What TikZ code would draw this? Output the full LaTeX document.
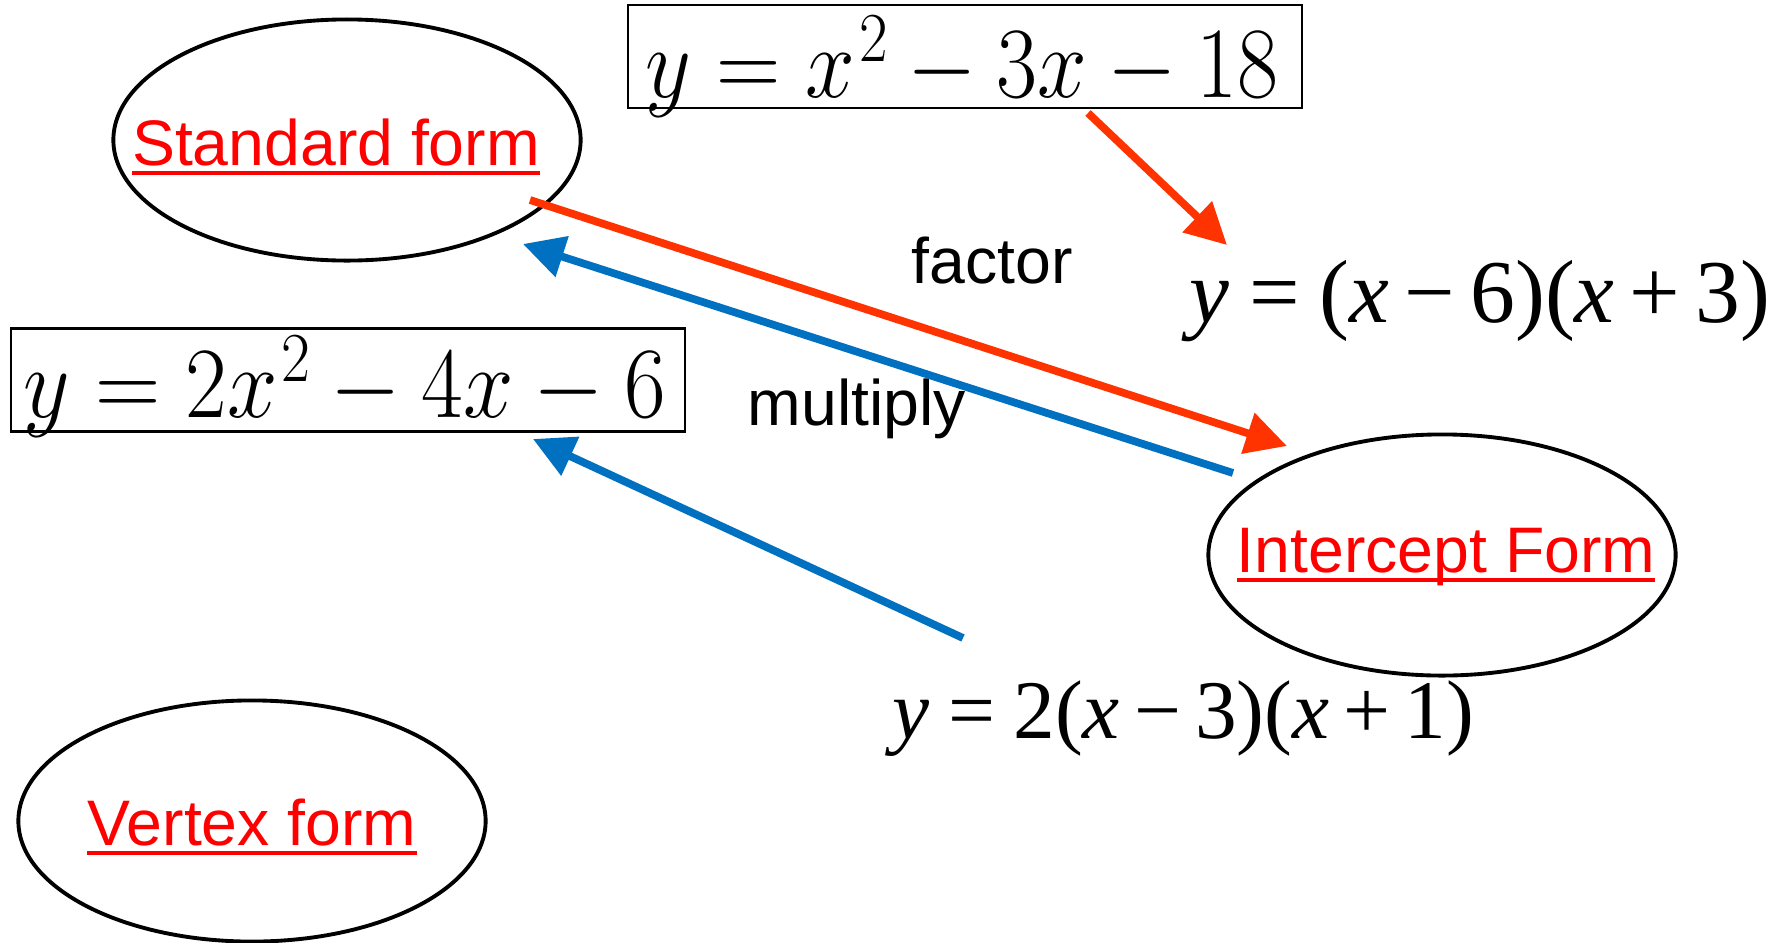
\documentclass[tikz,border=0pt]{standalone}
\usepackage[no-math]{fontspec}
\setmainfont{Liberation Sans}
\newfontfamily\tms{Liberation Serif}
\usepackage{graphicx}
\usetikzlibrary{arrows.meta,shapes.geometric}
\definecolor{arrred}{RGB}{255,51,0}
\definecolor{arrblue}{RGB}{0,112,192}
\definecolor{txtred}{RGB}{255,0,0}
\newcommand\myul[1]{\setbox0\hbox{#1}\rlap{\rule[-2.75pt]{\wd0}{1pt}}\box0}
\newcommand\sqr{\kern1.2pt\raisebox{8.8pt}{\fontsize{17.28}{19}\selectfont$2$}}
\begin{document}
\begin{tikzpicture}[x=0.01cm,y=-0.01cm,
  form/.style={draw=black, line width=1.1pt, ellipse, minimum width=4.67cm, minimum height=2.41cm, inner sep=0pt},
  lbl/.style={text=txtred, font=\fontsize{18.3}{22}\selectfont, inner sep=0pt, anchor=base},
  word/.style={text=black, font=\fontsize{18.3}{22}\selectfont, inner sep=0pt, anchor=base},
  eqbox/.style={draw=black, line width=0.6pt, minimum width=6.74cm, minimum height=1.03cm, inner sep=0pt},
  eqtext/.style={inner sep=0pt, anchor=base west},
  conn/.style={line width=2.2pt, -{Triangle[length=11.7pt,width=11.7pt]}}]
\fill[white] (0,0) rectangle (1775,942);
\useasboundingbox (0,0) rectangle (1775,942);

% ellipses
\node[form] (std) at (347,140) {};
\node[form] (int) at (1442,555) {};
\node[form] (vtx) at (252,821) {};
\node[lbl] (stdt) at (336,165) {\myul{Standard form}};
\node[lbl] (intt) at (1446,572) {\myul{Intercept Form}};
\node[lbl] (vtxt) at (252,845) {\myul{Vertex form}};

% boxed equations
\node[eqbox] (bx1) at (965,56.5) {};
\node[eqbox] (bx2) at (348,380) {};
\node[eqtext] (m1) at (645,97) {\scalebox{1.02}[1.155]{\fontsize{24.88}{30}\selectfont $y = x\sqr - 3x - 18$}};
\node[eqtext] (m2) at (23,417) {\scalebox{1.035}[1.155]{\fontsize{24.88}{30}\selectfont $y = 2x\sqr - 4x - 6$}};

% Times equations
\node[eqtext] (e1) at (1189,322) {\tms\fontsize{25.5}{30}\selectfont\textit{y}\hspace{.22em}=\hspace{.22em}(\textit{x}\hspace{.17em}−\hspace{.17em}6)(\textit{x}\hspace{.17em}+\hspace{.17em}3)};
\node[eqtext] (e2) at (892,738) {\tms\fontsize{23.7}{28}\selectfont\textit{y}\hspace{.22em}=\hspace{.22em}2(\textit{x}\hspace{.17em}−\hspace{.17em}3)(\textit{x}\hspace{.17em}+\hspace{.17em}1)};

% labels
\node[word] (fac) at (992,283) {factor};
\node[word] (mul) at (857,425) {multiply};

% arrow ends
\coordinate (r1s) at (1088,113);
\coordinate (r1e) at (1227,245);
\coordinate (r2s) at (530,200);
\coordinate (r2e) at (1287,446);
\coordinate (b1s) at (1233,473);
\coordinate (b1e) at (523,244);
\coordinate (b2s) at (963,638);
\coordinate (b2e) at (533,439);

\draw[conn, arrred] (r1s) -- (r1e);
\draw[conn, arrred] (r2s) -- (r2e);
\draw[conn, arrblue] (b1s) -- (b1e);
\draw[conn, arrblue] (b2s) -- (b2e);
\end{tikzpicture}
\end{document}
